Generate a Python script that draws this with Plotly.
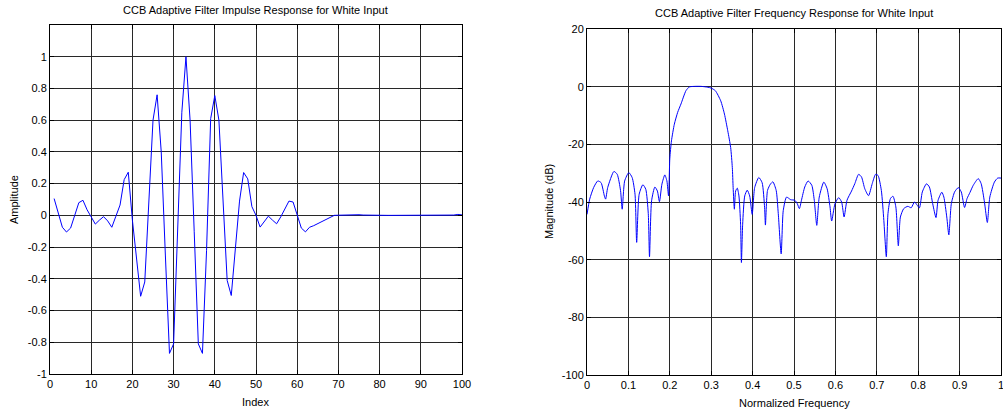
import plotly.graph_objects as go

# ---------------- data ----------------
impulse_index = list(range(1, 101))
impulse_amp = [
    0.106, 0.015, -0.075, -0.105, -0.08, 0.0, 0.08, 0.095, 0.035, -0.01,
    -0.055, -0.03, -0.008, -0.035, -0.075, -0.005, 0.065, 0.225, 0.272, -0.03,
    -0.27, -0.51, -0.42, 0.08, 0.60, 0.76, 0.40, -0.25, -0.87, -0.81,
    -0.06, 0.65, 1.0, 0.60, -0.10, -0.81, -0.87, -0.22, 0.61, 0.755,
    0.60, 0.10, -0.41, -0.505, -0.20, 0.09, 0.27, 0.23, 0.055, 0.0,
    -0.074, -0.04, -0.005, -0.03, -0.053, -0.01, 0.045, 0.09, 0.084, 0.0,
    -0.08, -0.104, -0.075, -0.065, -0.052, -0.04, -0.027, -0.013, 0.0, 0.001,
    0.002, 0.004, 0.006, 0.007, 0.004, 0.002, 0.001, 0.001, 0.0, 0.0,
    0.0, 0.0, 0.0, 0.0, 0.0, 0.0, 0.0, 0.0, 0.0, 0.0,
    0.0, 0.0, 0.0, 0.0, 0.0, 0.0, 0.001, 0.002, 0.006, 0.003,
]

freq_norm = [
    0.000, 0.0065, 0.016, 0.026, 0.034, 0.042, 0.045, 0.050, 0.065, 0.073,
    0.081, 0.085, 0.091, 0.101, 0.109, 0.116, 0.120, 0.126, 0.135, 0.142,
    0.148, 0.151, 0.156, 0.164, 0.170, 0.175, 0.181, 0.188, 0.193, 0.197,
    0.200, 0.204, 0.211, 0.219, 0.227, 0.239, 0.247, 0.260, 0.276, 0.292,
    0.300, 0.310, 0.323, 0.332, 0.340, 0.347, 0.351, 0.353, 0.356, 0.359,
    0.363, 0.367, 0.371, 0.373, 0.376, 0.381, 0.387, 0.393, 0.399, 0.405,
    0.415, 0.423, 0.429, 0.431, 0.436, 0.443, 0.449, 0.457, 0.462, 0.469,
    0.474, 0.482, 0.492, 0.502, 0.508, 0.513, 0.518, 0.526, 0.534, 0.543,
    0.549, 0.555, 0.561, 0.572, 0.580, 0.587, 0.591, 0.599, 0.608, 0.615,
    0.621, 0.628, 0.639, 0.647, 0.656, 0.663, 0.671, 0.680, 0.689, 0.697,
    0.703, 0.711, 0.717, 0.723, 0.727, 0.733, 0.739, 0.746, 0.752, 0.757,
    0.765, 0.775, 0.783, 0.791, 0.797, 0.803, 0.810, 0.820, 0.827, 0.835,
    0.843, 0.848, 0.857, 0.862, 0.869, 0.874, 0.880, 0.888, 0.897, 0.904,
    0.912, 0.918, 0.925, 0.933, 0.945, 0.952, 0.960, 0.967, 0.973, 0.984,
    0.992, 1.000,
]
mag_db = [
    -44.3, -39.0, -35.0, -32.7, -33.3, -37.9, -39.0, -35.0, -29.4, -30.4,
    -36.0, -42.5, -32.7, -29.8, -31.5, -37.3, -54.0, -37.3, -34.0, -35.6,
    -44.0, -59.0, -39.6, -34.8, -36.2, -39.9, -33.8, -30.6, -32.7, -37.9,
    -25.0, -18.8, -13.0, -8.9, -6.0, -1.4, -0.1, 0.1, 0.1, -0.2,
    -0.5, -1.4, -4.9, -9.5, -15.3, -21.1, -28.0, -35.0, -42.5, -36.2,
    -35.2, -37.9, -47.7, -61.0, -47.7, -37.9, -35.9, -37.9, -44.3, -35.0,
    -31.5, -33.3, -42.0, -48.0, -36.0, -33.8, -33.0, -36.0, -44.0, -58.0,
    -43.0, -38.3, -39.2, -39.4, -40.6, -42.3, -39.4, -34.8, -32.7, -34.2,
    -39.4, -48.1, -38.3, -33.1, -35.4, -41.7, -46.6, -40.6, -38.5, -40.0,
    -45.2, -39.4, -36.2, -33.6, -30.4, -31.3, -35.4, -37.8, -33.6, -30.4,
    -30.8, -36.0, -46.4, -59.0, -44.0, -38.8, -38.0, -41.7, -55.2, -45.2,
    -42.3, -41.5, -42.0, -40.0, -41.0, -42.0, -36.5, -33.7, -34.8, -40.6,
    -45.4, -39.4, -36.6, -38.3, -45.2, -51.4, -40.6, -36.5, -35.0, -36.5,
    -41.9, -38.8, -36.7, -34.2, -31.9, -33.6, -40.0, -47.1, -38.3, -33.1,
    -31.7, -31.7,
]

left_xticks = [0, 10, 20, 30, 40, 50, 60, 70, 80, 90, 100]
left_yticks = [-1, -0.8, -0.6, -0.4, -0.2, 0, 0.2, 0.4, 0.6, 0.8, 1]
left_ytext = ["-1", "-0.8", "-0.6", "-0.4", "-0.2", "0", "0.2", "0.4", "0.6", "0.8", "1"]
right_xticks = [0, 0.1, 0.2, 0.3, 0.4, 0.5, 0.6, 0.7, 0.8, 0.9, 1]
right_xtext = ["0", "0.1", "0.2", "0.3", "0.4", "0.5", "0.6", "0.7", "0.8", "0.9", "1"]
right_yticks = [-100, -80, -60, -40, -20, 0, 20]
right_ytext = ["-100", "-80", "-60", "-40", "-20", "0", "20"]

# ---------------- figure ----------------
W, H = 1003, 415
FONT = "Liberation Sans, Arial, sans-serif"
GRID = "rgb(40,40,40)"

fig = go.Figure()
fig.add_trace(go.Scatter(x=impulse_index, y=impulse_amp, mode="lines",
                         line=dict(color="rgb(0,0,255)", width=1),
                         xaxis="x", yaxis="y", showlegend=False))
fig.add_trace(go.Scatter(x=freq_norm, y=mag_db, mode="lines",
                         line=dict(color="rgb(0,0,255)", width=1, shape="spline", smoothing=0.6),
                         xaxis="x2", yaxis="y2", showlegend=False))

axis_common = dict(showline=True, linecolor="black", linewidth=1, mirror="ticks",
                   ticks="inside", ticklen=4, tickcolor="black", automargin=False,
                   ticklabeloverflow="allow",
                   showgrid=True, gridcolor=GRID, gridwidth=1, zeroline=False,
                   tickfont=dict(family=FONT, size=11, color="black"))

L0, L1 = 50 / W, 462 / W
R0, R1 = 587 / W, 1001 / W
LY0, LY1 = 1 - 374 / H, 1 - 25 / H
RY0, RY1 = 1 - 375 / H, 1 - 29 / H

fig.update_layout(
    width=W, height=H,
    margin=dict(l=0, r=0, t=0, b=0, pad=0),
    paper_bgcolor="white", plot_bgcolor="white",
    xaxis=dict(domain=[L0, L1], range=[0, 100], tickvals=left_xticks,
               ticktext=[str(v) for v in left_xticks], anchor="y", **axis_common),
    yaxis=dict(domain=[LY0, LY1], range=[-1, 1.2], tickvals=left_yticks + [1.2],
               ticktext=left_ytext + [""], anchor="x", **axis_common),
    xaxis2=dict(domain=[R0, R1], range=[0, 1], tickvals=right_xticks,
                ticktext=right_xtext, anchor="y2", **axis_common),
    yaxis2=dict(domain=[RY0, RY1], range=[-100, 20], tickvals=right_yticks,
                ticktext=right_ytext, anchor="x2", **axis_common),
)

anns = [
    dict(text="CCB Adaptive Filter Impulse Response for White Input", x=(L0 + L1) / 2, y=1 - 10 / H),
    dict(text="CCB Adaptive Filter Frequency Response for White Input", x=(R0 + R1) / 2, y=1 - 13 / H),
    dict(text="Index", x=(L0 + L1) / 2, y=1 - 402 / H),
    dict(text="Normalized Frequency", x=(R0 + R1) / 2, y=1 - 403 / H),
    dict(text="Amplitude", x=14 / W, y=1 - 200 / H, textangle=-90),
    dict(text="Magnitude (dB)", x=549 / W, y=1 - 202 / H, textangle=-90),
]
for a in anns:
    fig.add_annotation(xref="paper", yref="paper", showarrow=False,
                       xanchor="center", yanchor="middle",
                       font=dict(family=FONT, size=11, color="black"), **a)

fig.write_html("out.html")
